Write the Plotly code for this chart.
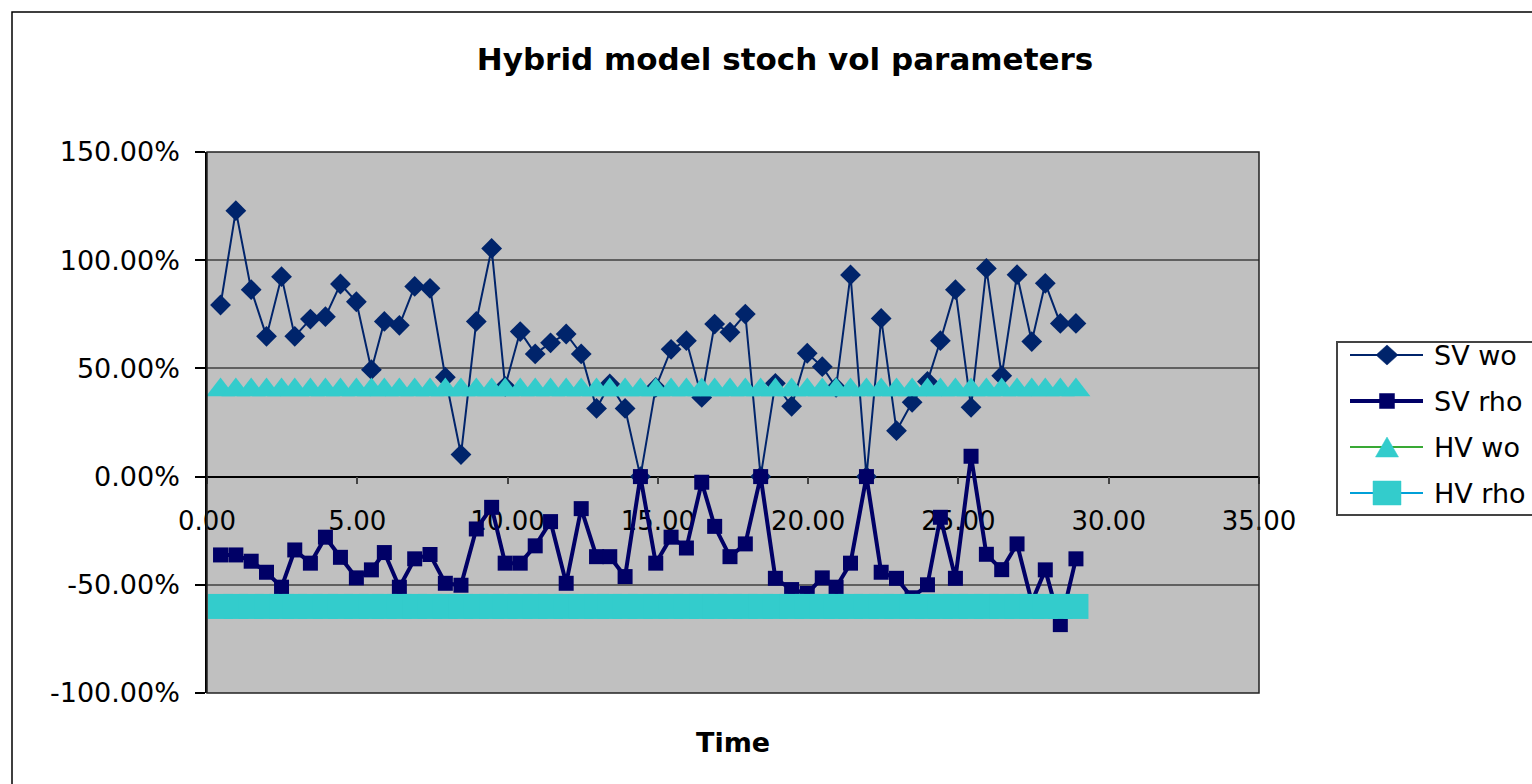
import plotly.graph_objects as go

# ---- data ----
time = [0.45, 0.96, 1.47, 1.98, 2.48, 2.92, 3.44, 3.94, 4.44, 4.97,
        5.47, 5.90, 6.40, 6.91, 7.42, 7.93, 8.45, 8.96, 9.47, 9.92,
        10.42, 10.92, 11.43, 11.95, 12.45, 12.96, 13.40, 13.91, 14.42, 14.93,
        15.44, 15.95, 16.46, 16.89, 17.40, 17.91, 18.42, 18.91, 19.45, 19.97,
        20.47, 20.93, 21.41, 21.94, 22.43, 22.94, 23.46, 23.97, 24.40, 24.90,
        25.42, 25.93, 26.44, 26.95, 27.44, 27.89, 28.39, 28.91]

sv_wo = [0.793, 1.229, 0.864, 0.648, 0.924, 0.648, 0.728, 0.739, 0.890, 0.808,
         0.494, 0.717, 0.699, 0.879, 0.870, 0.459, 0.102, 0.717, 1.054, 0.417,
         0.670, 0.567, 0.618, 0.659, 0.567, 0.315, 0.428, 0.315, 0.000, 0.412,
         0.588, 0.628, 0.366, 0.705, 0.667, 0.751, 0.000, 0.431, 0.325, 0.570,
         0.508, 0.412, 0.932, 0.000, 0.731, 0.212, 0.343, 0.440, 0.628, 0.864,
         0.320, 0.962, 0.466, 0.933, 0.624, 0.893, 0.708, 0.708]

sv_rho = [-0.362, -0.362, -0.391, -0.442, -0.511, -0.339, -0.400, -0.280, -0.373, -0.468,
          -0.431, -0.351, -0.511, -0.380, -0.360, -0.493, -0.502, -0.242, -0.142, -0.400,
          -0.400, -0.320, -0.208, -0.493, -0.148, -0.370, -0.370, -0.462, 0.000, -0.400,
          -0.280, -0.330, -0.026, -0.230, -0.370, -0.311, 0.000, -0.470, -0.522, -0.540,
          -0.468, -0.511, -0.400, 0.000, -0.442, -0.470, -0.560, -0.500, -0.188, -0.470,
          0.094, -0.359, -0.430, -0.311, -0.580, -0.431, -0.684, -0.380]

hv_wo = [0.40] * len(time)
hv_rho = [-0.60] * len(time)

series_names = ["SV wo", "SV rho", "HV wo", "HV rho"]
x_ticks = [0, 5, 10, 15, 20, 25, 30, 35]
y_ticks = [-1.0, -0.5, 0.0, 0.5, 1.0, 1.5]
y_tick_labels = ["-100.00%", "-50.00%", "0.00%", "50.00%", "100.00%", "150.00%"]

FONT = "DejaVu Sans"
C_SVWO = "#00246B"
C_SVRHO = "#000066"
C_TURQ = "#33CCCC"
C_GREEN = "#39A935"
C_BLUE = "#00A0D8"

fig = go.Figure()
fig.add_trace(go.Scatter(
    x=time, y=sv_wo, name=series_names[0], mode="lines+markers",
    line=dict(color=C_SVWO, width=2),
    marker=dict(symbol="diamond", size=16, color=C_SVWO)))
fig.add_trace(go.Scatter(
    x=time, y=sv_rho, name=series_names[1], mode="lines+markers",
    line=dict(color=C_SVRHO, width=4),
    marker=dict(symbol="square", size=15, color=C_SVRHO)))
fig.add_trace(go.Scatter(
    x=time, y=hv_wo, name=series_names[2], mode="lines+markers",
    line=dict(color=C_GREEN, width=1.5),
    marker=dict(symbol="triangle-up", size=25, color=C_TURQ)))
fig.add_trace(go.Scatter(
    x=time, y=hv_rho, name=series_names[3], mode="lines+markers",
    line=dict(color=C_BLUE, width=1.5),
    marker=dict(symbol="square", size=25, color=C_TURQ)))

L, R, T, B = 207, 273, 152, 91
W, H = 1532, 784
pw, ph = W - L - R, H - T - B


def px(xpix):
    return (xpix - L) / pw


def py(ypix):
    return (H - B - ypix) / ph


fig.update_layout(
    width=W, height=H,
    margin=dict(l=L, r=R, t=T, b=B, autoexpand=False),
    paper_bgcolor="white",
    plot_bgcolor="#C0C0C0",
    font=dict(family=FONT, color="black"),
    showlegend=False,
    title=dict(text="Hybrid model stoch vol parameters",
               font=dict(family=FONT, size=31, weight="bold", color="black"),
               xref="container", yref="container",
               x=785 / W, y=1 - 59 / H, xanchor="center", yanchor="middle"),
    xaxis=dict(range=[0, 35], tickvals=x_ticks, tickformat=".2f",
               showgrid=False, zeroline=False,
               showline=True, linecolor="black", linewidth=1.5,
               ticks="outside", ticklen=7, tickcolor="#444", tickwidth=1.5,
               tickfont=dict(family=FONT, size=26, color="black"),
               anchor="free", position=0.4, layer="below traces",
               ticklabelstandoff=14),
    yaxis=dict(range=[-1.0, 1.5], tickvals=y_ticks, ticktext=y_tick_labels,
               showgrid=True, gridcolor="#606060", gridwidth=1.5,
               zeroline=False,
               showline=True, linecolor="black", linewidth=1.5,
               ticks="outside", ticklen=10, tickcolor="black", tickwidth=1.5,
               tickfont=dict(family=FONT, size=27, color="black"),
               ticklabelstandoff=10),
)

# plot-area frame
fig.add_shape(type="rect", xref="x domain", yref="y domain",
              x0=0, x1=1, y0=0, y1=1, line=dict(color="#222", width=1.5),
              layer="above")
# outer chart frame (extends past the right/bottom edge like the reference)
fig.add_shape(type="rect", xref="paper", yref="paper",
              x0=px(12), x1=px(W + 20), y0=py(H + 20), y1=py(12),
              line=dict(color="black", width=1.5), layer="below")

# axis title placed under the plot area
fig.add_annotation(text="Time", xref="paper", yref="paper", x=0.5, y=py(742),
                   yanchor="middle", showarrow=False,
                   font=dict(family=FONT, size=27, weight="bold", color="black"))

# ---- legend box (runs off the right edge, as in the reference) ----
fig.add_shape(type="rect", xref="paper", yref="paper",
              x0=px(1337), x1=px(W + 40), y0=py(515), y1=py(342),
              line=dict(color="#444", width=2), fillcolor="white", layer="above")

rows = [355, 401, 447, 493]
line_styles = [(C_SVWO, 2), (C_SVRHO, 4), (C_GREEN, 2), (C_BLUE, 2)]
marker_paths = [
    "M-11,0 L0,10 L11,0 L0,-10 Z",            # diamond
    "M-7.5,-7.5 L7.5,-7.5 L7.5,7.5 L-7.5,7.5 Z",  # small square
    "M-11.5,-10 L11.5,-10 L0,10 Z",           # triangle up
    "M-14,-12 L14,-12 L14,12 L-14,12 Z",      # big square
]
marker_colors = [C_SVWO, C_SVRHO, C_TURQ, C_TURQ]
for name, yrow, (lc, lw), mpath, mc in zip(series_names, rows, line_styles,
                                            marker_paths, marker_colors):
    fig.add_shape(type="line", xref="paper", yref="paper",
                  x0=px(1350), x1=px(1423), y0=py(yrow), y1=py(yrow),
                  line=dict(color=lc, width=lw), layer="above")
    fig.add_shape(type="path", xref="paper", yref="paper",
                  xsizemode="pixel", ysizemode="pixel",
                  xanchor=px(1387), yanchor=py(yrow), path=mpath,
                  fillcolor=mc, line=dict(color=mc, width=0.5), layer="above")
    fig.add_annotation(text=name, xref="paper", yref="paper",
                       x=px(1432), y=py(yrow), xanchor="left", yanchor="middle",
                       showarrow=False,
                       font=dict(family=FONT, size=27, color="black"))

fig.write_html("out.html")
